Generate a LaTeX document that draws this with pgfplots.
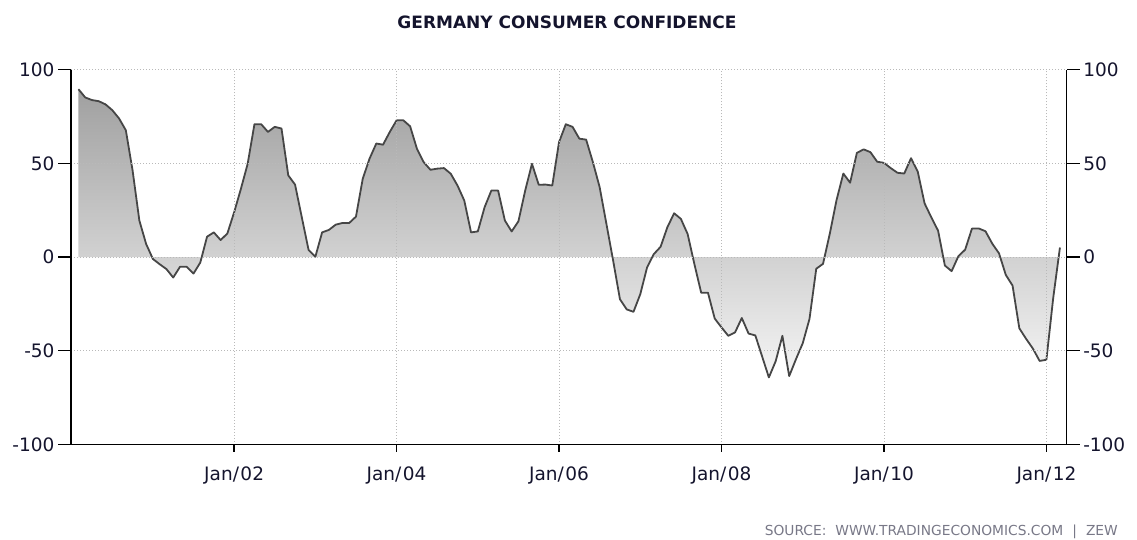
\documentclass[border=0pt]{standalone}
\usepackage{pgfplots}
\pgfplotsset{compat=1.18}
\usepackage{pgfplotstable}
\usepackage{fontspec}
\setmainfont{DejaVu Sans}
\definecolor{ticklab}{RGB}{20,20,45}
\definecolor{srcgray}{RGB}{120,120,135}
\definecolor{linegray}{RGB}{70,70,70}
\definecolor{gridgray}{RGB}{185,185,185}

\pgfplotstableread{
x y
1 89.6
2 85.2
3 83.8
4 83.2
5 81.5
6 78.4
7 74.0
8 67.7
9 46.2
10 19.5
11 7.0
12 -1.0
13 -3.8
14 -6.4
15 -10.9
16 -5.2
17 -5.2
18 -8.8
19 -2.9
20 10.9
21 13.2
22 9.1
23 12.6
24 23.9
25 36.4
26 49.8
27 70.9
28 70.9
29 66.8
30 69.5
31 68.6
32 43.6
33 38.7
34 21.2
35 3.8
36 0.2
37 13.2
38 14.5
39 17.3
40 18.2
41 18.2
42 21.6
43 41.8
44 52.5
45 60.6
46 60.0
47 66.8
48 73.0
49 73.0
50 69.8
51 57.9
52 50.7
53 46.6
54 47.2
55 47.5
56 44.5
57 38.2
58 30.2
59 13.2
60 13.7
61 26.6
62 35.5
63 35.5
64 19.5
65 13.7
66 19.1
67 35.5
68 49.8
69 38.6
70 38.7
71 38.2
72 61.4
73 70.9
74 69.5
75 63.2
76 62.7
77 50.7
78 37.3
79 17.7
80 -2.0
81 -22.5
82 -27.9
83 -29.2
84 -19.8
85 -5.6
86 1.6
87 5.5
88 15.9
89 23.4
90 20.4
91 12.3
92 -3.8
93 -19.0
94 -19.0
95 -32.8
96 -37.5
97 -42.0
98 -40.2
99 -32.5
100 -40.8
101 -41.8
102 -53.0
103 -64.2
104 -55.6
105 -42.0
106 -63.5
107 -54.5
108 -46.0
109 -33.0
110 -6.2
111 -3.6
112 12.5
113 30.5
114 44.6
115 39.7
116 55.6
117 57.5
118 56.0
119 50.9
120 50.3
121 47.5
122 45.0
123 44.6
124 52.8
125 45.5
126 28.7
127 21.2
128 14.1
129 -4.5
130 -7.5
131 0.5
132 4.0
133 15.2
134 15.3
135 13.8
136 7.2
137 2.0
138 -9.5
139 -15.2
140 -38.0
141 -43.6
142 -48.8
143 -55.4
144 -54.8
145 -22.0
146 5.1
}\zew

\begin{document}
\begin{tikzpicture}
\useasboundingbox (0,0) rectangle (1137pt,539pt);
\begin{axis}[
  at={(71pt,94.5pt)}, anchor=south west,
  scale only axis, width=995.7pt, height=374.8pt,
  xmin=-0.1, xmax=147, ymin=-100, ymax=100,
  axis x line*=bottom, axis y line*=box,
  every outer x axis line/.append style={-},
  every outer y axis line/.append style={-},
  axis line style={black, line width=1.3pt, -},
  xtick={24,48,72,96,120,144},
  xticklabels={Jan/\hspace{1.5pt}02,Jan/\hspace{1.5pt}04,Jan/\hspace{1.5pt}06,Jan/\hspace{1.5pt}08,Jan/\hspace{1.5pt}10,Jan/\hspace{1.5pt}12},
  ytick={-100,-50,0,50,100},
  tick align=outside,
  major tick length=13pt,
  xtick style={/pgfplots/major tick length=7pt},
  tick style={black, line width=1.3pt},
  grid=major,
  major grid style={gridgray, line width=0.8pt, dash pattern=on 1pt off 2pt},
  /pgf/number format/assume math mode=true,
  tick label style={font=\fontsize{18.5}{18.5}\selectfont, text=ticklab},
  xticklabel style={yshift=-6pt},
  axis on top,
  clip=false,
]
\addplot[draw=none, top color={rgb,255:red,160;green,160;blue,160}, bottom color={rgb,255:red,245;green,245;blue,245}] table[x=x,y=y] {\zew} \closedcycle;
\addplot[linegray, line width=1.8pt, line join=round] table[x=x,y=y] {\zew};
\end{axis}
\begin{axis}[
  at={(71pt,94.5pt)}, anchor=south west,
  scale only axis, width=995.7pt, height=374.8pt,
  xmin=-0.1, xmax=147, ymin=-100, ymax=100,
  hide x axis,
  axis y line*=right,
  y axis line style={draw=none},
  ytick={-100,-50,0,50,100},
  tick align=outside,
  major tick length=13pt,
  ytick style={draw=none},
  /pgf/number format/assume math mode=true,
  tick label style={font=\fontsize{18.5}{18.5}\selectfont, text=ticklab},
]
\end{axis}
\node[anchor=base, font=\fontsize{17}{17}\selectfont\bfseries, text=ticklab] at (567pt,510pt) {GERMANY CONSUMER CONFIDENCE};
\node[anchor=base east, font=\fontsize{13.8}{13.8}\selectfont, text=srcgray, inner sep=0pt] at (1118pt,4pt) {SOURCE:\hspace{9pt}WWW.TRADINGECONOMICS.COM\hspace{9pt}|\hspace{9pt}ZEW};
\end{tikzpicture}
\end{document}
